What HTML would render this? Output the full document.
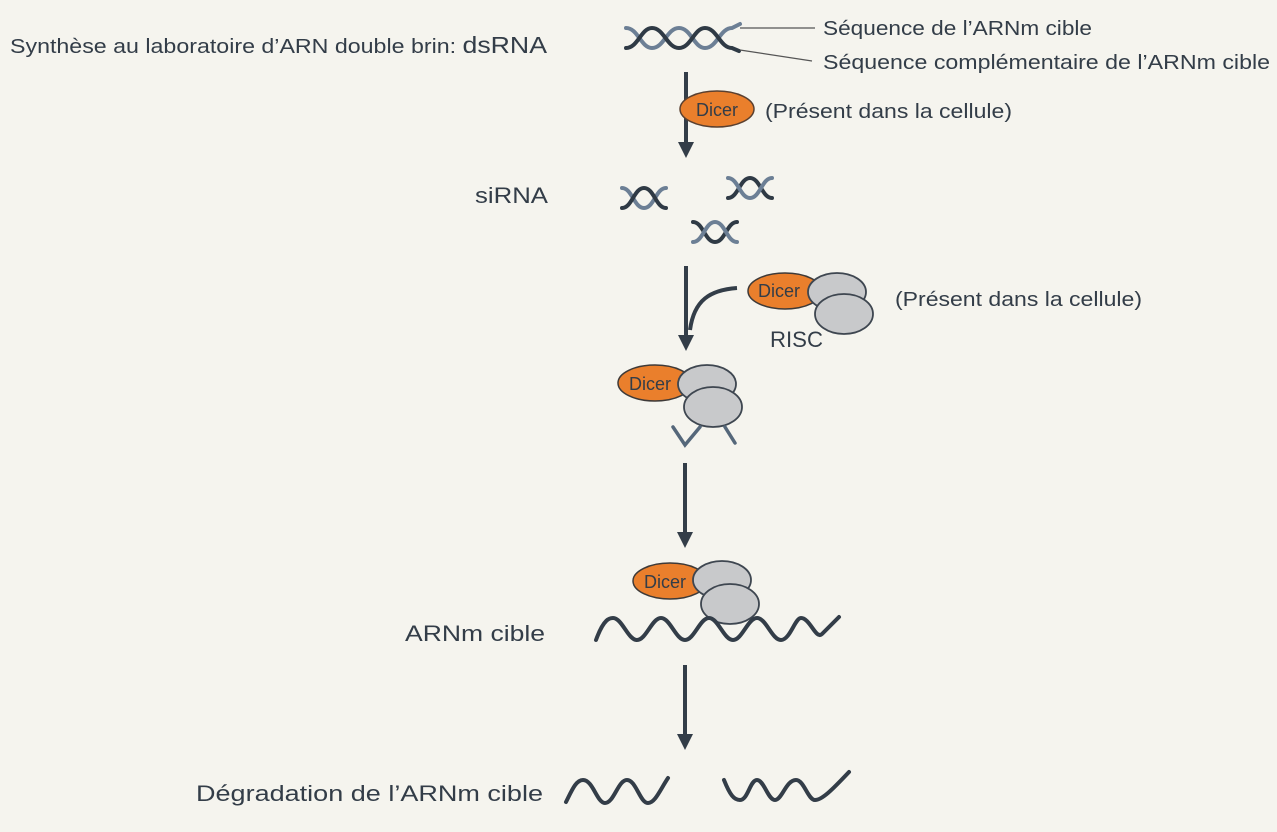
<!DOCTYPE html>
<html><head><meta charset="utf-8"><style>
html,body{margin:0;padding:0;background:#f5f4ee;}
svg{display:block;}
text{font-family:"Liberation Sans","DejaVu Sans",sans-serif;fill:#333d48;}
</style></head><body>
<svg width="1277" height="832" viewBox="0 0 1277 832" xmlns="http://www.w3.org/2000/svg">
<defs>
<marker id="ah" viewBox="0 0 10 10" refX="5" refY="5" markerWidth="4" markerHeight="4" orient="auto"><path d="M0,0 L10,5 L0,10 z" fill="#333d48"/></marker>
</defs>
<rect width="1277" height="832" fill="#f5f4ee"/>

<g fill="none" stroke-width="4" stroke-linecap="round">
<path d="M626,28 C638,28 641,48 652,48 C664,48 667,28 679,28 C691,28 694,48 705,48 C717,48 720,28 732,28 L740,24" stroke="#6c7f95"/>
<path d="M626,48 C638,48 641,28 652,28 C664,28 667,48 679,48 C691,48 694,28 705,28 C717,28 720,48 732,48 L739,51" stroke="#2f3a45"/>
</g>
<line x1="740" y1="28" x2="815" y2="28" stroke="#555" stroke-width="1.2"/>
<line x1="740" y1="50" x2="812" y2="61" stroke="#555" stroke-width="1.2"/>
<text x="823" y="35" font-size="20" textLength="269" lengthAdjust="spacingAndGlyphs">Séquence de l’ARNm cible</text>
<text x="823" y="69" font-size="20" textLength="447" lengthAdjust="spacingAndGlyphs">Séquence complémentaire de l’ARNm cible</text>
<text x="10" y="53" font-size="20" textLength="537" lengthAdjust="spacingAndGlyphs">Synthèse au laboratoire d’ARN double brin: <tspan font-size="23">dsRNA</tspan></text>

<line x1="686" y1="72" x2="686" y2="150" stroke="#333d48" stroke-width="4" marker-end="url(#ah)"/>
<ellipse cx="717" cy="109" rx="37" ry="18" fill="#ea7f2c" stroke="#5a4030" stroke-width="1.5"/>
<text x="717" y="116" font-size="18" text-anchor="middle" fill="#3a2a1a">Dicer</text>
<text x="765" y="118" font-size="20" textLength="247" lengthAdjust="spacingAndGlyphs">(Présent dans la cellule)</text>

<text x="475" y="203" font-size="22" textLength="73" lengthAdjust="spacingAndGlyphs">siRNA</text>
<g fill="none" stroke-width="4" stroke-linecap="round">
<g transform="translate(622,186)"><path d="M0,2 C10,2 12,22 22,22 C32,22 34,2 44,2" stroke="#6c7f95"/><path d="M0,22 C10,22 12,2 22,2 C32,2 34,22 44,22" stroke="#2f3a45"/></g>
<g transform="translate(728,176)"><path d="M0,22 C10,22 12,2 22,2 C32,2 34,22 44,22" stroke="#2f3a45"/><path d="M0,2 C10,2 12,22 22,22 C32,22 34,2 44,2" stroke="#6c7f95"/></g>
<g transform="translate(693,220)"><path d="M0,2 C10,2 12,22 22,22 C32,22 34,2 44,2" stroke="#2f3a45"/><path d="M0,22 C10,22 12,2 22,2 C32,2 34,22 44,22" stroke="#6c7f95"/></g>
</g>

<line x1="686" y1="266" x2="686" y2="343" stroke="#333d48" stroke-width="4" marker-end="url(#ah)"/>
<path d="M737,288 C710,290 694,300 690,330" fill="none" stroke="#333d48" stroke-width="4"/>
<ellipse cx="785" cy="291" rx="37" ry="18" fill="#ea7f2c" stroke="#3e3a38" stroke-width="1.5"/>
<text x="779" y="297" font-size="18" text-anchor="middle" fill="#3a2a1a">Dicer</text>
<ellipse cx="837" cy="292" rx="29" ry="19" fill="#c8c9cb" stroke="#3e4650" stroke-width="1.8"/>
<ellipse cx="844" cy="314" rx="29" ry="20" fill="#c8c9cb" stroke="#3e4650" stroke-width="1.8"/>
<text x="770" y="347" font-size="22" textLength="53" lengthAdjust="spacingAndGlyphs">RISC</text>
<text x="895" y="306" font-size="20" textLength="247" lengthAdjust="spacingAndGlyphs">(Présent dans la cellule)</text>

<ellipse cx="655" cy="383" rx="37" ry="18" fill="#ea7f2c" stroke="#3e3a38" stroke-width="1.5"/>
<text x="650" y="390" font-size="18" text-anchor="middle" fill="#3a2a1a">Dicer</text>
<ellipse cx="707" cy="384" rx="29" ry="19" fill="#c8c9cb" stroke="#3e4650" stroke-width="1.8"/>
<ellipse cx="713" cy="407" rx="29" ry="20" fill="#c8c9cb" stroke="#3e4650" stroke-width="1.8"/>
<path d="M673,427 L685,445 L700,427 M725,427 L735,443" fill="none" stroke="#55677a" stroke-width="3.5" stroke-linecap="round"/>

<line x1="685" y1="463" x2="685" y2="540" stroke="#333d48" stroke-width="4" marker-end="url(#ah)"/>

<ellipse cx="670" cy="581" rx="37" ry="18" fill="#ea7f2c" stroke="#3e3a38" stroke-width="1.5"/>
<text x="665" y="588" font-size="18" text-anchor="middle" fill="#3a2a1a">Dicer</text>
<ellipse cx="722" cy="580" rx="29" ry="19" fill="#c8c9cb" stroke="#3e4650" stroke-width="1.8"/>
<ellipse cx="730" cy="604" rx="29" ry="20" fill="#c8c9cb" stroke="#3e4650" stroke-width="1.8"/>
<path d="M596,640 C604,618 610,618 613,618 C622,618 628,640 637,640 C646,640 652,618 661,618 C670,618 676,640 685,640 C694,640 700,618 709,618 C718,618 724,640 733,640 C742,640 748,618 757,618 C766,618 772,640 781,640 C790,640 795,618 801,618 C810,618 816,640 822,634 L839,617" fill="none" stroke="#333d48" stroke-width="4" stroke-linecap="round"/>
<text x="405" y="641" font-size="22" textLength="140" lengthAdjust="spacingAndGlyphs">ARNm cible</text>

<line x1="685" y1="665" x2="685" y2="742" stroke="#333d48" stroke-width="4" marker-end="url(#ah)"/>

<text x="196" y="801" font-size="22" textLength="347" lengthAdjust="spacingAndGlyphs">Dégradation de l’ARNm cible</text>
<path d="M566,802 C572,790 576,780 583,780 C593,780 597,803 605,803 C614,803 618,780 627,780 C636,780 640,803 648,803 C655,803 660,790 668,778" fill="none" stroke="#333d48" stroke-width="4" stroke-linecap="round"/>
<path d="M724,780 C730,795 734,800 740,800 C748,800 750,780 757,780 C764,780 768,800 775,800 C782,800 786,780 796,780 C804,780 808,800 815,800 C822,800 832,790 849,772" fill="none" stroke="#333d48" stroke-width="4" stroke-linecap="round"/>
</svg>
</body></html>
